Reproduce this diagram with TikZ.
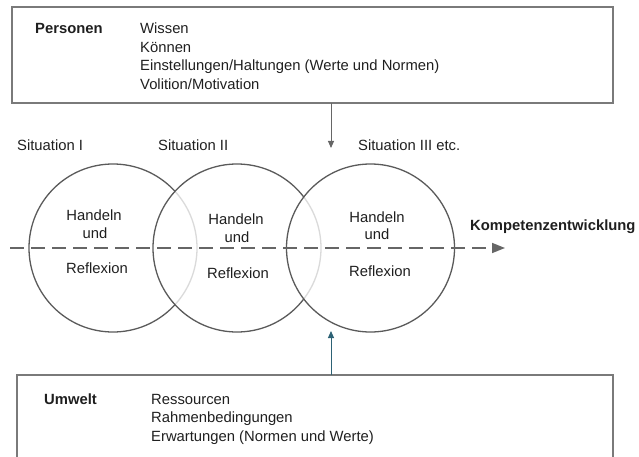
\documentclass[tikz,border=0pt]{standalone}
\usepackage{fontspec}
\setmainfont{Liberation Sans}
\usetikzlibrary{arrows.meta}
\definecolor{boxgray}{HTML}{7A7A7A}
\definecolor{circgray}{HTML}{5A5A5A}
\definecolor{dashgray}{HTML}{666666}
\definecolor{teal}{HTML}{2D6275}
\tikzset{
  txt/.style={inner sep=0pt, font=\fontsize{14.8}{18}\selectfont, text=black!88},
  btxt/.style={txt, font=\fontsize{14.8}{18}\selectfont\bfseries},
  frame/.style={draw=boxgray, line width=1.8pt, rectangle, inner sep=0pt},
  sit/.style={circle, draw=circgray, line width=1.3pt, minimum size=168pt, inner sep=0pt},
  overlay/.style={sit, fill=white, fill opacity=0.78},
}
\begin{document}
\begin{tikzpicture}[x=1pt,y=-1pt]
\useasboundingbox (0,0) rectangle (639,457);
% boxes
\node[frame, minimum width=601pt, minimum height=96pt] (top) at (312.5,55) {};
\node[frame, minimum width=596pt, minimum height=120pt] (bot) at (315,435) {};
% circles
\node[sit] (c1) at (113,248) {};
\node[overlay] (c2) at (237,248) {};
\node[overlay] (c3) at (370.5,248) {};
% dashed development line
\coordinate (ds) at (10,248);
\coordinate (de) at (505,248);
\draw[dashgray, line width=1.6pt, dash pattern=on 14pt off 7pt, -{Triangle[length=13pt,width=10pt]}] (ds) -- (de);
% arrows
\coordinate (ta) at (331,103);
\coordinate (tb) at (331,148);
\coordinate (ba) at (331,375);
\coordinate (bb) at (331,331);
\draw[dashgray, line width=0.9pt, -{Triangle[length=7pt,width=6pt]}] (ta) -- (tb);
\draw[teal, line width=1pt, -{Triangle[length=7pt,width=6pt]}] (ba) -- (bb);
% top box text
\node[btxt, anchor=base west] (pers) at (35,34) {Personen};
\node[txt, anchor=base west] (p1) at (140,34) {Wissen};
\node[txt, anchor=base west] (p2) at (140,52.5) {Können};
\node[txt, anchor=base west] (p3) at (140,71) {Einstellungen/Haltungen (Werte und Normen)};
\node[txt, anchor=base west] (p4) at (140,89.5) {Volition/Motivation};
% bottom box text
\node[btxt, anchor=base west] (umw) at (44,404) {Umwelt};
\node[txt, anchor=base west] (u1) at (151,404) {Ressourcen};
\node[txt, anchor=base west] (u2) at (151,422.5) {Rahmenbedingungen};
\node[txt, anchor=base west] (u3) at (151,441) {Erwartungen (Normen und Werte)};
% situation labels
\node[txt, anchor=base west] (s1) at (17,150) {Situation I};
\node[txt, anchor=base west] (s2) at (158,150) {Situation II};
\node[txt, anchor=base west] (s3) at (358,150) {Situation III etc.};
\node[btxt, anchor=base west] (komp) at (470,230) {Kompetenzentwicklung};
% circle texts
\node[txt, anchor=base] (h1) at (94,220) {Handeln};
\node[txt, anchor=base] (n1) at (95,238) {und};
\node[txt, anchor=base] (r1) at (97,273) {Reflexion};
\node[txt, anchor=base] (h2) at (236,224) {Handeln};
\node[txt, anchor=base] (n2) at (237,242) {und};
\node[txt, anchor=base] (r2) at (238,278) {Reflexion};
\node[txt, anchor=base] (h3) at (377,222) {Handeln};
\node[txt, anchor=base] (n3) at (377,239) {und};
\node[txt, anchor=base] (r3) at (380,276) {Reflexion};
\end{tikzpicture}
\end{document}
